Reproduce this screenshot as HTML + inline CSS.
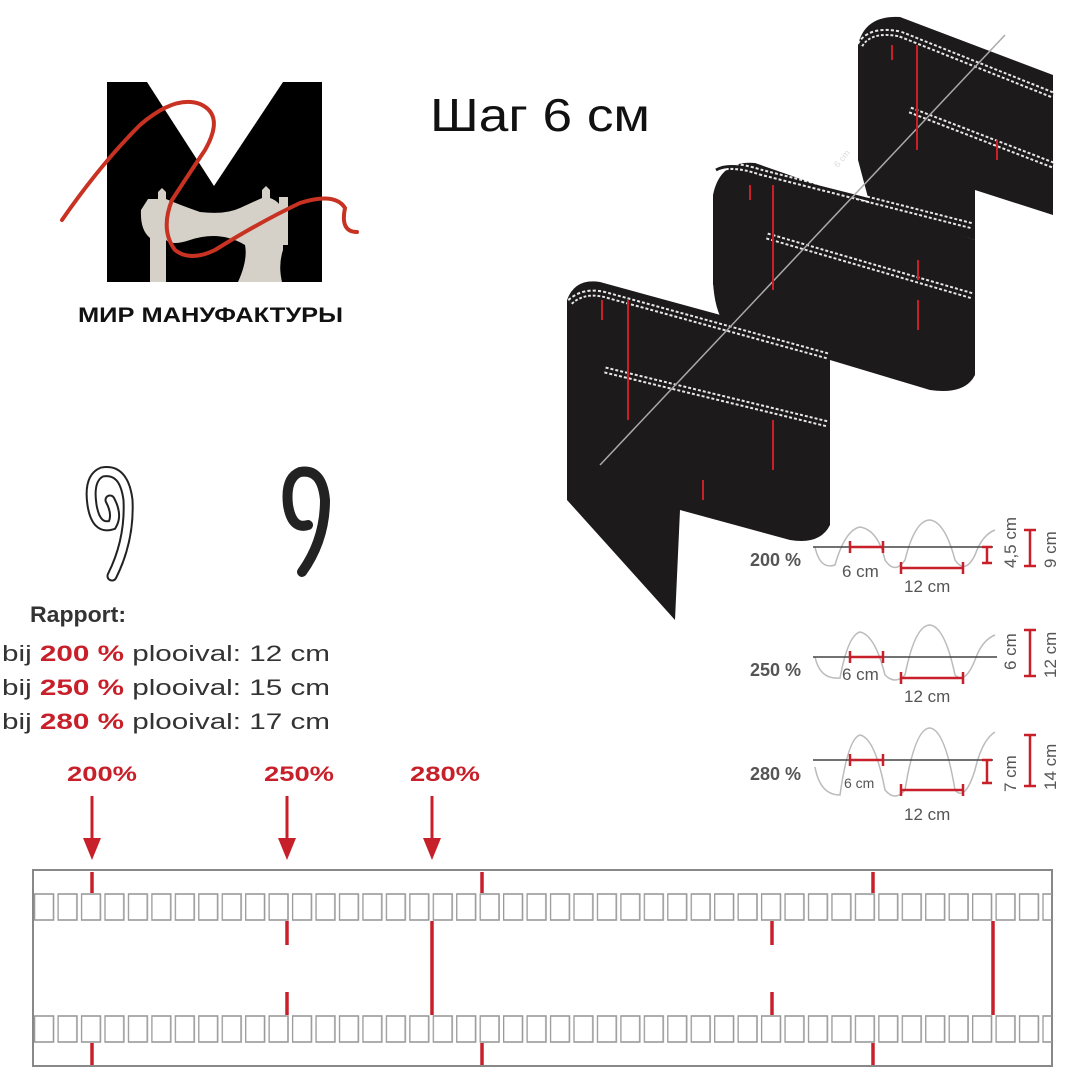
<!DOCTYPE html>
<html><head><meta charset="utf-8"><style>
html,body{margin:0;padding:0;background:#fff;width:1080px;height:1080px;overflow:hidden}
</style></head><body>
<svg width="1080" height="1080" viewBox="0 0 1080 1080" xmlns="http://www.w3.org/2000/svg" font-family="Liberation Sans, sans-serif">
<defs>
<pattern id="sq" x="34" y="0" width="23.45" height="1080" patternUnits="userSpaceOnUse">
<rect x="0.5" y="894" width="19" height="26" fill="none" stroke="#9a9a9a" stroke-width="1.6"/>
<rect x="0.5" y="1016" width="19" height="26" fill="none" stroke="#9a9a9a" stroke-width="1.6"/>
</pattern>
</defs>
<rect width="1080" height="1080" fill="#fff"/>

<!-- Logo -->
<rect x="107" y="82" width="215" height="200" fill="#000"/>
<polygon points="147,82 214,186 283,82" fill="#fff"/>
<path d="M148,199 L158,199 L158,192 L162,188 L166,192 L166,199 Q180,205 200,212 Q225,215 240,208 L262,198 L262,190 L266,186 L270,190 L270,198 Q282,202 283,215 L283,250 Q278,265 282,282 L238,282 Q248,260 245,245 Q220,230 190,240 Q172,246 166,240 L166,282 L150,282 L150,238 Q140,230 141,210 Z" fill="#d6d1c8"/>
<rect x="279" y="197" width="9" height="48" fill="#d6d1c8"/>
<path d="M62,220 Q100,165 140,125 Q175,95 200,104 Q225,115 205,150 Q185,180 172,200 Q160,230 175,250 Q190,262 215,250 Q260,222 300,203 Q335,192 345,208 Q340,232 357,232" fill="none" stroke="#c83222" stroke-width="4" stroke-linecap="round"/>
<text x="78" y="322" textLength="265" lengthAdjust="spacingAndGlyphs" font-size="21" font-weight="bold" fill="#111">МИР МАНУФАКТУРЫ</text>

<text x="430" y="131" font-size="46" textLength="220" lengthAdjust="spacingAndGlyphs" fill="#111">Шаг 6 см</text>

<!-- Ribbon -->
<g fill="#1c1a1a">
<path d="M858,45 Q865,15 900,17 L1053,75 L1053,215 L975,190 L975,240 L870,205 L858,160 Z"/>
<path d="M713,195 Q720,160 755,163 L975,240 L975,375 Q965,395 930,390 L830,360 L830,345 L713,285 Z"/>
<path d="M713,280 Q715,340 760,345 L830,360 L830,300 Z"/>
<path d="M567,300 Q575,278 600,282 L830,345 L830,525 Q820,545 790,540 L680,510 L675,620 L567,500 Z"/>
</g>
<g fill="none" stroke="#fff" stroke-width="7" stroke-dasharray="3 2" opacity="0.9">
<path d="M570,302 Q585,288 610,296 L828,356"/>
<path d="M605,370 L828,424"/>
<path d="M716,170 Q730,162 760,172 L973,226"/>
<path d="M767,236 L973,296"/>
<path d="M860,45 Q870,28 900,34 L1053,95"/>
<path d="M910,110 L1053,165"/>
</g>
<g fill="none" stroke="#1c1a1a" stroke-width="3">
<path d="M570,302 Q585,288 610,296 L828,356"/>
<path d="M605,370 L828,424"/>
<path d="M716,170 Q730,162 760,172 L973,226"/>
<path d="M767,236 L973,296"/>
<path d="M860,45 Q870,28 900,34 L1053,95"/>
<path d="M910,110 L1053,165"/>
</g>
<line x1="600" y1="465" x2="1005" y2="35" stroke="#aaa" stroke-width="1.5"/>
<text x="838" y="168" font-size="9" fill="#ddd" transform="rotate(-50 838 168)">6 cm</text>
<g stroke="#c8202a" stroke-width="2">
<line x1="628" y1="300" x2="628" y2="420"/><line x1="602" y1="300" x2="602" y2="320"/>
<line x1="773" y1="420" x2="773" y2="470"/><line x1="703" y1="480" x2="703" y2="500"/>
<line x1="773" y1="185" x2="773" y2="290"/><line x1="750" y1="185" x2="750" y2="200"/>
<line x1="918" y1="300" x2="918" y2="330"/><line x1="918" y1="260" x2="918" y2="280"/>
<line x1="917" y1="45" x2="917" y2="150"/><line x1="892" y1="45" x2="892" y2="60"/>
<line x1="997" y1="140" x2="997" y2="160"/>
</g>

<!-- clips -->
<path d="M112,576 Q130,540 128,500 Q124,468 102,472 Q88,478 92,505 Q96,530 112,525 Q118,515 110,500" fill="none" stroke="#222" stroke-width="11" stroke-linecap="round"/>
<path d="M112,576 Q130,540 128,500 Q124,468 102,472 Q88,478 92,505 Q96,530 112,525 Q118,515 110,500" fill="none" stroke="#fff" stroke-width="7" stroke-linecap="round"/>
<path d="M302,572 Q325,540 325,500 Q322,468 300,472 Q285,478 288,505 Q292,530 308,525" fill="none" stroke="#222" stroke-width="10" stroke-linecap="round"/>

<!-- Rapport -->
<g font-size="22" fill="#333">
<text x="30" y="622" font-weight="bold" textLength="96" lengthAdjust="spacingAndGlyphs">Rapport:</text>
<text x="2" y="661" textLength="328" lengthAdjust="spacingAndGlyphs">bij <tspan fill="#c8202a" font-weight="bold">200 %</tspan> plooival:  12 cm</text>
<text x="2" y="695" textLength="328" lengthAdjust="spacingAndGlyphs">bij <tspan fill="#c8202a" font-weight="bold">250 %</tspan> plooival:  15 cm</text>
<text x="2" y="729" textLength="328" lengthAdjust="spacingAndGlyphs">bij <tspan fill="#c8202a" font-weight="bold">280 %</tspan> plooival:  17 cm</text>
</g>
<g font-size="21" font-weight="bold" fill="#c8202a">
<text x="67" y="781" textLength="70" lengthAdjust="spacingAndGlyphs">200%</text><text x="264" y="781" textLength="70" lengthAdjust="spacingAndGlyphs">250%</text><text x="410" y="781" textLength="70" lengthAdjust="spacingAndGlyphs">280%</text>
</g>
<g stroke="#c8202a" stroke-width="3"><line x1="92" y1="796" x2="92" y2="842"/><line x1="287" y1="796" x2="287" y2="842"/><line x1="432" y1="796" x2="432" y2="842"/></g>
<g fill="#c8202a"><polygon points="83,838 101,838 92,860"/><polygon points="278,838 296,838 287,860"/><polygon points="423,838 441,838 432,860"/></g>

<!-- wave diagrams -->
<g font-size="17" fill="#555">
<g>
<text x="750" y="566" font-weight="bold" font-size="18">200 %</text>
<path d="M815,547 Q820,570 835,565 Q845,530 860,527 Q878,530 885,560 Q895,575 905,560 Q915,520 930,520 Q945,522 955,560 Q965,575 975,555 Q982,535 995,530" fill="none" stroke="#bbb" stroke-width="1.5"/>
<line x1="813" y1="547" x2="993" y2="547" stroke="#444" stroke-width="1.5"/>
<text x="842" y="577">6 cm</text><text x="904" y="592">12 cm</text>
<text x="1016" y="568" transform="rotate(-90 1016 568)">4,5 cm</text>
<text x="1056" y="568" transform="rotate(-90 1056 568)">9 cm</text>
</g>
<g transform="translate(0,110)">
<text x="750" y="566" font-weight="bold" font-size="18">250 %</text>
<path d="M815,547 Q820,570 840,568 Q848,525 860,522 Q875,525 885,565 Q895,575 905,565 Q915,515 930,515 Q945,517 955,565 Q965,575 975,550 Q982,530 995,525" fill="none" stroke="#bbb" stroke-width="1.5"/>
<line x1="813" y1="547" x2="997" y2="547" stroke="#444" stroke-width="1.5"/>
<text x="842" y="570">6 cm</text><text x="904" y="592">12 cm</text>
<text x="1016" y="560" transform="rotate(-90 1016 560)">6 cm</text>
<text x="1056" y="568" transform="rotate(-90 1056 568)">12 cm</text>
</g>
<g transform="translate(0,220)">
<text x="750" y="560" font-weight="bold" font-size="18">280 %</text>
<path d="M815,547 Q820,575 840,575 Q848,518 860,515 Q875,518 885,570 Q895,582 905,570 Q915,508 930,508 Q945,510 955,570 Q965,582 975,550 Q982,520 995,512" fill="none" stroke="#bbb" stroke-width="1.5"/>
<line x1="813" y1="540" x2="993" y2="540" stroke="#444" stroke-width="1.5"/>
<text x="844" y="568" font-size="14">6 cm</text><text x="904" y="600">12 cm</text>
<text x="1016" y="572" transform="rotate(-90 1016 572)">7 cm</text>
<text x="1056" y="570" transform="rotate(-90 1056 570)">14 cm</text>
</g>
</g>
<g stroke="#c8202a" stroke-width="2.5" fill="none">
<path d="M850,547 H883 M850,541 V553 M883,541 V553 M901,568 H963 M901,562 V574 M963,562 V574 M987,547 V563 M982,547 H992 M982,563 H992 M1030,530 V566 M1024,530 H1036 M1024,566 H1036"/>
<path transform="translate(0,110)" d="M850,547 H883 M850,541 V553 M883,541 V553 M901,568 H963 M901,562 V574 M963,562 V574 M1030,520 V566 M1024,520 H1036 M1024,566 H1036"/>
<path transform="translate(0,220)" d="M850,540 H883 M850,534 V546 M883,534 V546 M901,570 H963 M901,564 V576 M963,564 V576 M987,540 V563 M982,540 H992 M982,563 H992 M1030,515 V566 M1024,515 H1036 M1024,566 H1036"/>
</g>

<!-- tape -->
<rect x="33" y="870" width="1019" height="196" fill="none" stroke="#888" stroke-width="2"/>
<rect x="33" y="890" width="1019" height="155" fill="url(#sq)"/>
<g stroke="#c8202a" stroke-width="3.5">
<line x1="92" y1="872" x2="92" y2="893"/><line x1="482" y1="872" x2="482" y2="893"/><line x1="873" y1="872" x2="873" y2="893"/>
<line x1="92" y1="1043" x2="92" y2="1065"/><line x1="482" y1="1043" x2="482" y2="1065"/><line x1="873" y1="1043" x2="873" y2="1065"/>
<line x1="287" y1="921" x2="287" y2="945"/><line x1="287" y1="992" x2="287" y2="1015"/>
<line x1="772" y1="921" x2="772" y2="945"/><line x1="772" y1="992" x2="772" y2="1015"/>
<line x1="432" y1="921" x2="432" y2="1015"/><line x1="993" y1="921" x2="993" y2="1015"/>
</g>
</svg>
</body></html>
